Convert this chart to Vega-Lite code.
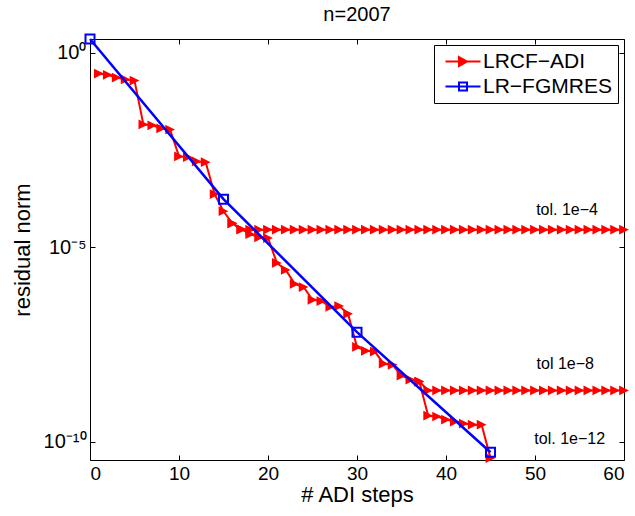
{
  "$schema": "https://vega.github.io/schema/vega-lite/v6.json",
  "autosize": {"type": "none"},
  "width": 534,
  "height": 421,
  "padding": {"left": 90, "top": 39, "right": 11, "bottom": 56},
  "title": {"text": "n=2007", "fontSize": 20, "fontWeight": "normal", "font": "Liberation Sans", "color": "#000", "offset": 6},
  "config": {
    "view": {"stroke": "#000", "strokeWidth": 1},
    "axis": {"domain": false, "grid": false, "tickColor": "#000", "tickSize": -5, "tickWidth": 1, "labelColor": "#000", "titleColor": "#000", "labelFont": "Liberation Sans", "titleFont": "Liberation Sans", "labelFontSize": 19, "titleFontSize": 22, "titleFontWeight": "normal"},
    "text": {"font": "Liberation Sans"}
  },
  "datasets": {
    "adi": [
      {"run": "c", "k": 1, "r": 0.295}, {"run": "c", "k": 2, "r": 0.275}, {"run": "c", "k": 3, "r": 0.234}, {"run": "c", "k": 4, "r": 0.209}, {"run": "c", "k": 5, "r": 0.195},
      {"run": "c", "k": 6, "r": 0.0145}, {"run": "c", "k": 7, "r": 0.0138}, {"run": "c", "k": 8, "r": 0.0115}, {"run": "c", "k": 9, "r": 0.0107}, {"run": "c", "k": 10, "r": 0.00219},
      {"run": "c", "k": 11, "r": 0.00209}, {"run": "c", "k": 12, "r": 0.00162}, {"run": "c", "k": 13, "r": 0.00155}, {"run": "c", "k": 14, "r": 0.000234}, {"run": "c", "k": 15, "r": 8.51e-5},
      {"run": "c", "k": 16, "r": 4.17e-5}, {"run": "c", "k": 17, "r": 2.95e-5}, {"run": "c", "k": 18, "r": 2.19e-5}, {"run": "c", "k": 19, "r": 1.82e-5}, {"run": "c", "k": 20, "r": 1.74e-5},
      {"run": "c", "k": 21, "r": 3.98e-6}, {"run": "c", "k": 22, "r": 2.63e-6}, {"run": "c", "k": 23, "r": 1.15e-6}, {"run": "c", "k": 24, "r": 9.55e-7}, {"run": "c", "k": 25, "r": 4.47e-7},
      {"run": "c", "k": 26, "r": 4.17e-7}, {"run": "c", "k": 27, "r": 2.95e-7}, {"run": "c", "k": 28, "r": 3.09e-7}, {"run": "c", "k": 29, "r": 1.95e-7}, {"run": "c", "k": 30, "r": 2.75e-8},
      {"run": "c", "k": 31, "r": 2.19e-8}, {"run": "c", "k": 32, "r": 2.09e-8}, {"run": "c", "k": 33, "r": 1.02e-8}, {"run": "c", "k": 34, "r": 9.55e-9}, {"run": "c", "k": 35, "r": 5.01e-9},
      {"run": "c", "k": 36, "r": 3.98e-9}, {"run": "c", "k": 37, "r": 3.55e-9}, {"run": "c", "k": 38, "r": 4.68e-10}, {"run": "c", "k": 39, "r": 4.47e-10}, {"run": "c", "k": 40, "r": 3.72e-10},
      {"run": "c", "k": 41, "r": 3.31e-10}, {"run": "c", "k": 42, "r": 2.95e-10}, {"run": "c", "k": 43, "r": 2.75e-10}, {"run": "c", "k": 44, "r": 2.75e-10}, {"run": "c", "k": 45, "r": 3.8e-11},
      {"run": "a", "k": 16, "r": 4.17e-5}, {"run": "a", "k": 17, "r": 2.85e-5}, {"run": "a", "k": 18, "r": 2.85e-5}, {"run": "a", "k": 19, "r": 2.85e-5}, {"run": "a", "k": 20, "r": 2.85e-5},
      {"run": "a", "k": 21, "r": 2.85e-5}, {"run": "a", "k": 22, "r": 2.85e-5}, {"run": "a", "k": 23, "r": 2.85e-5}, {"run": "a", "k": 24, "r": 2.85e-5}, {"run": "a", "k": 25, "r": 2.85e-5},
      {"run": "a", "k": 26, "r": 2.85e-5}, {"run": "a", "k": 27, "r": 2.85e-5}, {"run": "a", "k": 28, "r": 2.85e-5}, {"run": "a", "k": 29, "r": 2.85e-5}, {"run": "a", "k": 30, "r": 2.85e-5},
      {"run": "a", "k": 31, "r": 2.85e-5}, {"run": "a", "k": 32, "r": 2.85e-5}, {"run": "a", "k": 33, "r": 2.85e-5}, {"run": "a", "k": 34, "r": 2.85e-5}, {"run": "a", "k": 35, "r": 2.85e-5},
      {"run": "a", "k": 36, "r": 2.85e-5}, {"run": "a", "k": 37, "r": 2.85e-5}, {"run": "a", "k": 38, "r": 2.85e-5}, {"run": "a", "k": 39, "r": 2.85e-5}, {"run": "a", "k": 40, "r": 2.85e-5},
      {"run": "a", "k": 41, "r": 2.85e-5}, {"run": "a", "k": 42, "r": 2.85e-5}, {"run": "a", "k": 43, "r": 2.85e-5}, {"run": "a", "k": 44, "r": 2.85e-5}, {"run": "a", "k": 45, "r": 2.85e-5},
      {"run": "a", "k": 46, "r": 2.85e-5}, {"run": "a", "k": 47, "r": 2.85e-5}, {"run": "a", "k": 48, "r": 2.85e-5}, {"run": "a", "k": 49, "r": 2.85e-5}, {"run": "a", "k": 50, "r": 2.85e-5},
      {"run": "a", "k": 51, "r": 2.85e-5}, {"run": "a", "k": 52, "r": 2.85e-5}, {"run": "a", "k": 53, "r": 2.85e-5}, {"run": "a", "k": 54, "r": 2.85e-5}, {"run": "a", "k": 55, "r": 2.85e-5},
      {"run": "a", "k": 56, "r": 2.85e-5}, {"run": "a", "k": 57, "r": 2.85e-5}, {"run": "a", "k": 58, "r": 2.85e-5}, {"run": "a", "k": 59, "r": 2.85e-5}, {"run": "a", "k": 60, "r": 2.85e-5},
      {"run": "b", "k": 37, "r": 3.55e-9}, {"run": "b", "k": 38, "r": 2.09e-9}, {"run": "b", "k": 39, "r": 2.09e-9}, {"run": "b", "k": 40, "r": 2.09e-9}, {"run": "b", "k": 41, "r": 2.09e-9},
      {"run": "b", "k": 42, "r": 2.09e-9}, {"run": "b", "k": 43, "r": 2.09e-9}, {"run": "b", "k": 44, "r": 2.09e-9}, {"run": "b", "k": 45, "r": 2.09e-9}, {"run": "b", "k": 46, "r": 2.09e-9},
      {"run": "b", "k": 47, "r": 2.09e-9}, {"run": "b", "k": 48, "r": 2.09e-9}, {"run": "b", "k": 49, "r": 2.09e-9}, {"run": "b", "k": 50, "r": 2.09e-9}, {"run": "b", "k": 51, "r": 2.09e-9},
      {"run": "b", "k": 52, "r": 2.09e-9}, {"run": "b", "k": 53, "r": 2.09e-9}, {"run": "b", "k": 54, "r": 2.09e-9}, {"run": "b", "k": 55, "r": 2.09e-9}, {"run": "b", "k": 56, "r": 2.09e-9},
      {"run": "b", "k": 57, "r": 2.09e-9}, {"run": "b", "k": 58, "r": 2.09e-9}, {"run": "b", "k": 59, "r": 2.09e-9}, {"run": "b", "k": 60, "r": 2.09e-9}
    ],
    "fgmres": [
      {"k": 0, "r": 2.29}, {"k": 15, "r": 1.74e-4}, {"k": 30, "r": 6.61e-8}, {"k": 45, "r": 5.37e-11}
    ],
    "ann": [
      {"k": 53.6, "r": 9.1e-5, "label": "tol. 1e−4"},
      {"k": 53.4, "r": 1.02e-8, "label": "tol 1e−8"},
      {"k": 53.9, "r": 1.17e-10, "label": "tol. 1e−12"}
    ],
    "leg": [{"method": "LRCF−ADI"}, {"method": "LR−FGMRES"}]
  },
  "resolve": {"axis": {"x": "independent", "y": "independent"}},
  "layer": [
    {
      "data": {"name": "adi"},
      "mark": {"type": "line", "color": "#ff0000", "strokeWidth": 2, "clip": false},
      "encoding": {
        "x": {"field": "k", "type": "quantitative", "scale": {"domain": [0, 60], "nice": false, "zero": false},
          "axis": {"orient": "bottom", "values": [0, 10, 20, 30, 40, 50, 60], "title": "# ADI steps", "labelPadding": 9, "titlePadding": 1}},
        "y": {"field": "r", "type": "quantitative", "scale": {"type": "log", "domain": [3.4e-11, 2.29], "nice": false},
          "axis": {"orient": "left", "values": [1, 1e-5, 1e-10], "labelExpr": "datum.value > 0.5 ? '10⁰' : (datum.value > 1e-7 ? '10⁻⁵' : '10⁻¹⁰')", "title": "residual norm", "labelPadding": 9, "labelFontSize": 20, "titlePadding": 9}},
        "detail": {"field": "run"}
      }
    },
    {
      "data": {"name": "adi"},
      "mark": {"type": "point", "shape": "M-1,-1L1,0L-1,1Z", "filled": true, "color": "#ff0000", "opacity": 1, "size": 95, "clip": false},
      "encoding": {
        "x": {"field": "k", "type": "quantitative", "axis": {"orient": "top", "values": [0, 10, 20, 30, 40, 50, 60], "labels": false, "title": null}},
        "y": {"field": "r", "type": "quantitative", "axis": {"orient": "right", "values": [1, 1e-5, 1e-10], "labels": false, "title": null}}
      }
    },
    {
      "data": {"name": "fgmres"},
      "mark": {"type": "line", "color": "#0000ff", "strokeWidth": 2.5, "clip": false},
      "encoding": {
        "x": {"field": "k", "type": "quantitative", "axis": null},
        "y": {"field": "r", "type": "quantitative", "axis": null}
      }
    },
    {
      "data": {"name": "fgmres"},
      "mark": {"type": "point", "shape": "square", "filled": false, "color": "#0000ff", "strokeWidth": 2, "opacity": 1, "size": 81, "clip": false},
      "encoding": {
        "x": {"field": "k", "type": "quantitative", "axis": null},
        "y": {"field": "r", "type": "quantitative", "axis": null}
      }
    },
    {
      "data": {"name": "ann"},
      "mark": {"type": "text", "fontSize": 16, "color": "#000", "align": "center", "baseline": "middle"},
      "encoding": {
        "x": {"field": "k", "type": "quantitative", "axis": null},
        "y": {"field": "r", "type": "quantitative", "axis": null},
        "text": {"field": "label"}
      }
    },
    {
      "data": {"name": "leg"},
      "mark": {"type": "point", "opacity": 0, "strokeWidth": 2},
      "encoding": {
        "stroke": {"field": "method", "type": "nominal", "scale": {"domain": ["LRCF−ADI", "LR−FGMRES"], "range": ["#ff0000", "#0000ff"]},
          "legend": {"orient": "top-right", "offset": 6, "title": null, "strokeColor": "#000", "fillColor": "#fff", "padding": 6, "labelFontSize": 21, "labelFont": "Liberation Sans", "labelColor": "#000", "symbolSize": 100, "symbolStrokeWidth": 2, "symbolOpacity": 1, "labelOffset": 22, "rowPadding": 3}},
        "fill": {"field": "method", "type": "nominal", "scale": {"domain": ["LRCF−ADI", "LR−FGMRES"], "range": ["#ff0000", "transparent"]},
          "legend": {"orient": "top-right", "offset": 6, "title": null, "strokeColor": "#000", "fillColor": "#fff", "padding": 6, "labelFontSize": 21, "labelFont": "Liberation Sans", "labelColor": "#000", "symbolSize": 100, "symbolStrokeWidth": 2, "symbolOpacity": 1, "labelOffset": 22, "rowPadding": 3}},
        "shape": {"field": "method", "type": "nominal", "scale": {"domain": ["LRCF−ADI", "LR−FGMRES"], "range": ["M-1,0L6,0M1.7,-0.9L3.3,0L1.7,0.9Z", "M-1,0L6,0M1.7,-0.8L3.3,-0.8L3.3,0.8L1.7,0.8Z"]},
          "legend": {"orient": "top-right", "offset": 6, "title": null, "strokeColor": "#000", "fillColor": "#fff", "padding": 6, "labelFontSize": 21, "labelFont": "Liberation Sans", "labelColor": "#000", "symbolSize": 100, "symbolStrokeWidth": 2, "symbolOpacity": 1, "labelOffset": 22, "rowPadding": 3}}
      }
    }
  ]
}
